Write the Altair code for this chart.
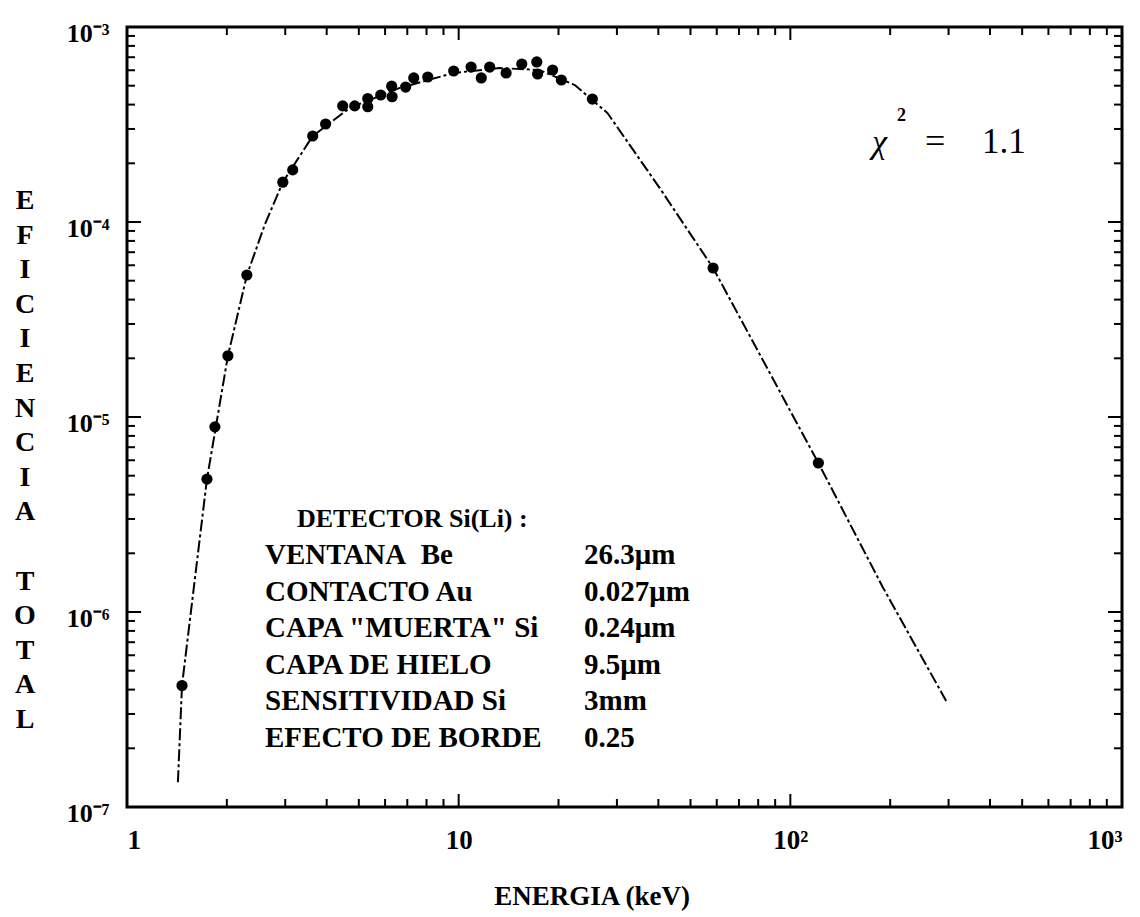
import altair as alt
import pandas as pd

# ---------------- data ----------------
energy_pts = [1.465, 1.742, 1.841, 2.015, 2.298, 2.95, 3.16, 3.63, 3.97, 4.47, 4.86,
              5.32, 5.32, 5.82, 6.28, 6.30, 6.92, 7.32, 8.07, 9.66, 10.9, 11.7, 12.4,
              13.9, 15.5, 17.2, 17.3, 19.2, 20.4, 25.3, 58.5, 121.5]
eff_pts = [4.2e-7, 4.8e-6, 8.9e-6, 2.06e-5, 5.35e-5, 1.60e-4, 1.85e-4, 2.76e-4, 3.18e-4,
           3.94e-4, 3.94e-4, 4.30e-4, 3.90e-4, 4.48e-4, 4.97e-4, 4.39e-4, 4.92e-4, 5.48e-4,
           5.54e-4, 5.95e-4, 6.23e-4, 5.48e-4, 6.23e-4, 5.81e-4, 6.46e-4, 6.62e-4, 5.74e-4,
           6.02e-4, 5.35e-4, 4.27e-4, 5.81e-5, 5.81e-6]

curve_E = [1.424, 1.465, 1.742, 2.015, 2.30, 2.60, 2.95, 3.63, 4.69, 6.64, 9.66, 13.3,
           17.5, 22.4, 28.1, 40.3, 58.5, 121.5, 190.0, 295.0]
curve_eff = [1.34e-7, 4.2e-7, 4.8e-6, 2.06e-5, 5.35e-5, 9.65e-5, 1.6e-4, 2.76e-4, 3.84e-4,
             4.87e-4, 5.81e-4, 6.16e-4, 6.02e-4, 5.04e-4, 3.62e-4, 1.50e-4, 5.81e-5,
             5.81e-6, 1.34e-6, 3.5e-7]

x_tick_values = [1, 10, 100, 1000]
x_tick_labels = ["1", "10", "10²", "10³"]
y_tick_values = [1e-7, 1e-6, 1e-5, 1e-4, 1e-3]
y_tick_labels = ["10⁻⁷", "10⁻⁶", "10⁻⁵", "10⁻⁴", "10⁻³"]

x_minor = [m * d for d in (1, 10, 100) for m in range(2, 10)]
x_major = [10, 100]
y_minor = [m * d for d in (1e-7, 1e-6, 1e-5, 1e-4) for m in range(2, 10)]
y_major = [1e-6, 1e-5, 1e-4]

param_names = ["VENTANA\u00a0\u00a0Be", "CONTACTO Au", 'CAPA "MUERTA" Si', "CAPA DE HIELO",
               "SENSITIVIDAD Si", "EFECTO DE BORDE"]
param_values = ["26.3μm", "0.027μm", "0.24μm", "9.5μm", "3mm", "0.25"]
block_title = "DETECTOR Si(Li) :"
y_title_words = ["EFICIENCIA", "TOTAL"]
x_title = "ENERGIA (keV)"
chi_parts = ["χ", "2", "=", "1.1"]

# ---------------- layout ----------------
W, H = 995, 780
FONT = "Liberation Serif"
LETTER_STEP = 34.6

xs = alt.Scale(type="log", domain=[1, 1000], nice=False)
ys = alt.Scale(type="log", domain=[1e-7, 1e-3], nice=False)


def expr_map(vals, labs):
    e = "''"
    for v, l in zip(vals, labs):
        e = f"(abs(datum.value - {v}) < {v}*1e-6) ? '{l}' : " + e
    return e


curve = alt.Chart(pd.DataFrame({"E": curve_E, "eff": curve_eff})).mark_line(
    color="black", strokeWidth=2, strokeDash=[12, 3, 3, 3], clip=True).encode(
    x=alt.X("E:Q", scale=xs, axis=alt.Axis(
        values=x_tick_values, labelExpr=expr_map(x_tick_values, x_tick_labels),
        ticks=False, domain=False, grid=False, title=None, labelFlush=True,
        labelFont=FONT, labelFontSize=27, labelFontWeight="bold", labelColor="black",
        labelPadding=20)),
    y=alt.Y("eff:Q", scale=ys, axis=alt.Axis(
        values=y_tick_values, labelExpr=expr_map(y_tick_values, y_tick_labels),
        ticks=False, domain=False, grid=False, title=None,
        labelFont=FONT, labelFontSize=26, labelFontWeight="bold", labelColor="black",
        labelPadding=18, labelOffset=6)),
)

points = alt.Chart(pd.DataFrame({"E": energy_pts, "eff": eff_pts})).mark_circle(
    color="black", opacity=1, size=125).encode(
    x=alt.X("E:Q", scale=xs), y=alt.Y("eff:Q", scale=ys))


def xticks(vals, y0, y1):
    return alt.Chart(pd.DataFrame({"v": vals})).mark_rule(color="black", strokeWidth=2).encode(
        x=alt.X("v:Q", scale=xs), y=alt.value(y0), y2=alt.value(y1))


def yticks(vals, x0, x1):
    return alt.Chart(pd.DataFrame({"v": vals})).mark_rule(color="black", strokeWidth=2).encode(
        y=alt.Y("v:Q", scale=ys), x=alt.value(x0), x2=alt.value(x1))


ticks = [
    xticks(x_minor, H, H - 8), xticks(x_major, H, H - 13),
    xticks(x_minor, 0, 8), xticks(x_major, 0, 13),
    yticks(y_minor, 0, 8), yticks(y_major, 0, 14),
    yticks(y_minor, W, W - 8), yticks(y_major, W, W - 14),
]


def text_layer(txt, x, y, size, align="left", baseline="alphabetic", weight="bold",
               line_height=None, style=None):
    kw = dict(font=FONT, fontSize=size, fontWeight=weight, color="black", align=align,
              baseline=baseline)
    if line_height is not None:
        kw["lineBreak"] = "\n"
        kw["lineHeight"] = line_height
    if style is not None:
        kw["fontStyle"] = style
    return alt.Chart(pd.DataFrame({"t": [txt]})).mark_text(**kw).encode(
        x=alt.value(x), y=alt.value(y), text="t:N")


first_word = y_title_words[0]
texts = [
    text_layer(block_title, 170, 500, 26),
    text_layer("\n".join(param_names), 138, 537, 29, line_height=36.6),
    text_layer("\n".join(param_values), 457, 537, 29, line_height=36.6),
    text_layer("\n".join(first_word), -102, 182, 28, align="center", line_height=LETTER_STEP),
    text_layer("\n".join(y_title_words[1]), -102, 182 + (len(first_word) + 1) * LETTER_STEP,
               28, align="center", line_height=LETTER_STEP),
    text_layer(x_title, 465, 878, 27, align="center"),
    text_layer(chi_parts[0], 745, 126, 34, weight="normal", style="italic"),
    text_layer(chi_parts[1], 770, 94, 18),
    text_layer(chi_parts[2], 798, 126, 36, weight="normal"),
    text_layer(chi_parts[3], 855, 126, 35, weight="normal"),
]

chart = alt.layer(curve, points, *ticks, *texts).properties(
    width=W, height=H,
    autosize=alt.AutoSizeParams(type="none"),
    padding={"left": 119, "top": 19, "right": 10, "bottom": 109},
    background="white",
).configure_view(stroke="black", strokeWidth=3)

chart.save("out.html", embed_options={"renderer": "svg", "actions": False})
